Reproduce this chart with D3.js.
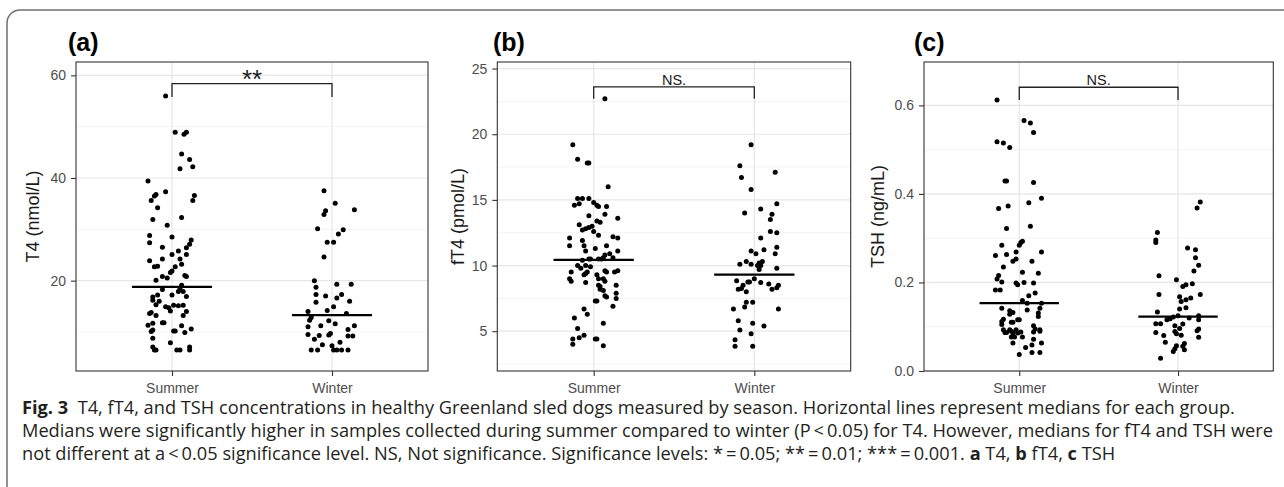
<!DOCTYPE html>
<html>
<head>
<meta charset="utf-8">
<script src="https://cdn.jsdelivr.net/npm/d3@7"></script>
<style>
  body { margin: 0; background: #fff; }
  svg { display: block; }
</style>
</head>
<body>
<script>
const W = 1284
const H = 487

const groups = ['Summer', 'Winter']
const panelLetters = ['(a)', '(b)', '(c)']
const yTitles = ['T4 (nmol/L)', 'fT4 (pmol/L)', 'TSH (ng/mL)']
const sigLabels = ['**', 'NS.', 'NS.']
const yDomains = [[2.4, 62.6], [1.97, 25.5], [0, 0.698]]
const yTicks = [[20, 40, 60], [5, 10, 15, 20, 25], [0, 0.2, 0.4, 0.6]]
const yMinor = [[10, 30, 50], [2.5, 7.5, 12.5, 17.5, 22.5], [0.1, 0.3, 0.5]]
const tickFormats = ['d', 'd', '.1f']
const medians = [[18.8, 13.3], [10.43, 9.31], [0.1535, 0.123]]
// bracket: [bar value, tip value]
const brackets = [[58.4, 55.8], [23.6, 22.7], [0.641, 0.612]]

// points: [jitter in category units, value]
const t4Summer = [
  [-0.04, 56.0], [0.02, 48.9], [0.075, 48.5], [0.09, 48.9], [0.06, 44.7], [0.11, 43.6], [0.05, 41.8], [0.13, 42.2],
  [-0.15, 39.4], [0.14, 36.6], [0.13, 35.6], [-0.10, 36.8], [-0.11, 36.5], [-0.04, 37.3], [-0.13, 35.6], [-0.09, 34.2],
  [0.06, 32.3], [-0.12, 31.9], [-0.03, 30.8], [-0.14, 28.8], [0.00, 28.5], [-0.14, 27.4], [0.12, 27.9], [0.11, 27.1],
  [-0.06, 26.5], [0.09, 26.4], [0.04, 25.8], [0.00, 25.1], [0.09, 25.1], [-0.14, 23.9], [-0.06, 24.2], [0.05, 24.2],
  [0.06, 23.2], [-0.11, 22.7], [-0.09, 22.8], [0.02, 22.7], [0.00, 21.9], [-0.01, 21.6], [-0.10, 20.1], [-0.06, 20.8],
  [-0.03, 20.5], [0.08, 21.0], [0.09, 20.8], [0.06, 19.1], [0.05, 18.4], [-0.06, 18.3], [-0.12, 16.8], [-0.09, 17.2],
  [0.00, 17.2], [0.04, 17.9], [0.07, 17.9], [0.09, 16.9], [-0.12, 16.2], [-0.08, 16.0], [-0.10, 15.3], [-0.04, 14.9],
  [-0.02, 14.7], [0.01, 15.2], [0.04, 15.1], [0.07, 15.2], [0.09, 14.0], [-0.13, 13.8], [-0.14, 13.6], [-0.10, 13.2],
  [-0.01, 14.1], [0.07, 13.2], [-0.12, 11.7], [-0.06, 11.8], [-0.05, 11.8], [-0.15, 11.3], [-0.12, 10.4], [-0.13, 10.1],
  [0.01, 10.2], [0.02, 10.2], [0.06, 11.2], [0.12, 10.6], [0.08, 9.9], [-0.12, 8.8], [-0.01, 7.9], [-0.12, 7.1],
  [-0.11, 6.5], [-0.10, 6.5], [0.03, 6.5], [0.05, 6.5], [0.11, 7.1], [0.11, 6.5]
]
const t4Winter = [
  [-0.05, 37.5], [0.02, 35.1], [0.14, 33.8], [-0.04, 33.6], [-0.05, 32.9], [-0.09, 30.1], [0.07, 29.9], [0.04, 29.1],
  [-0.03, 27.5], [0.01, 27.5], [-0.05, 24.6], [-0.11, 20.0], [-0.10, 18.7], [0.03, 19.3], [0.12, 19.3], [-0.10, 17.3],
  [-0.04, 17.0], [0.03, 16.6], [0.06, 17.3], [-0.10, 15.8], [0.11, 16.0], [0.01, 14.9], [-0.03, 14.2], [-0.15, 14.0],
  [0.09, 13.6], [-0.13, 12.8], [-0.14, 12.3], [-0.02, 12.2], [0.02, 11.6], [-0.15, 11.0], [-0.07, 11.2], [0.14, 11.2],
  [0.10, 10.5], [-0.15, 9.5], [-0.08, 9.3], [-0.01, 9.7], [-0.02, 9.4], [0.10, 9.2], [0.13, 9.2], [-0.11, 8.6],
  [-0.06, 7.5], [0.05, 8.0], [0.00, 7.3], [-0.13, 6.5], [-0.09, 6.5], [0.01, 6.5], [0.03, 6.5], [0.06, 6.5], [0.10, 6.5]
]
const ft4Summer = [
  [0.07, 22.7], [-0.13, 19.2], [-0.10, 18.1], [-0.04, 17.8], [-0.03, 17.8], [0.09, 16.0], [-0.10, 15.1], [-0.07, 15.1],
  [-0.03, 15.1], [-0.12, 14.6], [-0.09, 14.7], [0.00, 14.8], [0.02, 14.6], [0.03, 14.5], [0.08, 14.5], [-0.03, 13.8],
  [0.07, 13.9], [0.15, 13.6], [0.02, 13.4], [0.04, 13.3], [-0.09, 13.1], [-0.07, 12.7], [-0.05, 12.8], [-0.03, 12.9],
  [-0.01, 13.0], [0.00, 12.6], [-0.15, 12.1], [0.03, 12.3], [0.12, 12.2], [0.15, 12.1], [-0.07, 11.9], [-0.15, 11.5],
  [-0.06, 11.5], [0.08, 11.5], [0.01, 11.3], [-0.05, 11.1], [0.15, 11.1], [0.10, 10.9], [0.12, 10.6], [0.07, 10.8],
  [0.06, 10.6], [0.05, 10.5], [0.03, 10.5], [-0.02, 10.5], [-0.07, 10.4], [-0.03, 10.5], [-0.10, 10.0], [-0.08, 9.8],
  [-0.05, 10.0], [-0.02, 9.9], [-0.14, 9.5], [-0.15, 9.0], [-0.14, 8.8], [-0.05, 9.4], [-0.04, 9.5], [-0.06, 9.3],
  [0.02, 9.3], [0.07, 9.6], [0.08, 9.5], [0.13, 9.5], [0.15, 9.6], [0.06, 9.0], [0.07, 8.8], [0.03, 9.0],
  [-0.05, 8.7], [0.03, 8.5], [0.04, 8.4], [0.04, 8.2], [0.14, 8.5], [0.06, 8.1], [0.07, 7.7], [0.08, 7.6],
  [0.14, 7.9], [0.14, 7.5], [0.01, 7.3], [0.02, 7.3], [0.12, 6.9], [-0.06, 6.7], [-0.04, 6.3], [-0.12, 6.0],
  [0.06, 5.6], [-0.10, 5.2], [-0.06, 4.7], [-0.09, 4.5], [-0.13, 4.4], [-0.13, 4.0], [0.01, 4.4], [0.02, 4.4], [0.06, 3.9]
]
const ft4Winter = [
  [-0.02, 19.2], [-0.09, 17.6], [0.13, 17.1], [-0.08, 16.7], [-0.02, 15.8], [0.14, 14.7], [0.04, 14.3], [-0.06, 14.0],
  [0.11, 13.9], [0.10, 13.5], [0.10, 12.6], [0.14, 12.5], [0.04, 12.1], [0.14, 11.4], [0.13, 10.9], [-0.02, 11.1],
  [0.01, 10.9], [0.06, 11.2], [-0.05, 10.3], [-0.09, 10.1], [-0.02, 10.1], [0.03, 10.2], [0.05, 10.3], [0.04, 10.0],
  [0.03, 9.7], [0.02, 10.0], [0.14, 9.8], [-0.11, 8.85], [-0.07, 8.5], [-0.10, 8.2], [-0.08, 8.25], [-0.04, 8.75],
  [-0.03, 8.75], [0.00, 9.0], [0.04, 8.7], [-0.05, 8.0], [0.09, 8.6], [0.11, 8.2], [0.14, 8.3], [0.15, 8.5],
  [-0.05, 7.2], [-0.06, 6.85], [-0.01, 7.2], [-0.13, 6.7], [0.15, 6.7], [-0.10, 5.8], [-0.01, 5.6], [0.06, 5.4],
  [-0.09, 5.1], [-0.02, 4.8], [-0.12, 4.35], [-0.12, 3.85], [-0.01, 3.85]
]
const tshSummer = [
  [-0.14, 0.612], [0.03, 0.566], [0.07, 0.560], [0.09, 0.539], [-0.14, 0.518], [-0.10, 0.515], [-0.06, 0.505],
  [-0.09, 0.429], [-0.08, 0.429], [0.09, 0.426], [0.14, 0.390], [-0.07, 0.373], [-0.13, 0.367], [0.06, 0.380],
  [-0.08, 0.322], [0.07, 0.327], [0.01, 0.290], [0.02, 0.293], [0.00, 0.284], [-0.11, 0.284], [-0.15, 0.261],
  [-0.08, 0.263], [-0.02, 0.269], [0.14, 0.269], [-0.04, 0.248], [-0.02, 0.253], [0.08, 0.248], [-0.10, 0.235],
  [0.02, 0.223], [0.12, 0.221], [-0.13, 0.216], [-0.14, 0.208], [-0.11, 0.201], [-0.15, 0.183], [-0.12, 0.183],
  [-0.02, 0.199], [-0.01, 0.195], [0.03, 0.200], [0.09, 0.199], [0.10, 0.176], [0.06, 0.170], [0.02, 0.159],
  [0.05, 0.153], [0.05, 0.138], [0.14, 0.153], [0.13, 0.142], [-0.11, 0.142], [-0.06, 0.136], [-0.04, 0.132],
  [-0.06, 0.128], [0.12, 0.131], [0.12, 0.123], [-0.10, 0.117], [-0.11, 0.112], [-0.11, 0.105], [-0.01, 0.116],
  [0.00, 0.116], [-0.05, 0.110], [-0.04, 0.110], [-0.10, 0.093], [-0.08, 0.087], [-0.09, 0.087], [-0.06, 0.093],
  [-0.05, 0.090], [-0.04, 0.086], [-0.02, 0.093], [-0.01, 0.086], [0.01, 0.088], [0.09, 0.102], [0.10, 0.095],
  [0.09, 0.088], [0.13, 0.093], [0.13, 0.090], [-0.05, 0.077], [-0.03, 0.077], [-0.04, 0.063], [0.02, 0.077],
  [0.09, 0.072], [0.08, 0.059], [0.14, 0.063], [0.04, 0.053], [0.00, 0.037], [0.08, 0.042], [0.13, 0.042]
]
const tshWinter = [
  [0.14, 0.382], [0.12, 0.368], [-0.13, 0.313], [-0.14, 0.296], [-0.14, 0.290], [0.06, 0.278], [0.11, 0.274],
  [0.11, 0.256], [0.13, 0.239], [0.10, 0.226], [-0.12, 0.215], [-0.01, 0.206], [0.03, 0.191], [0.05, 0.195],
  [0.09, 0.197], [0.14, 0.173], [-0.12, 0.173], [0.01, 0.168], [0.08, 0.165], [0.05, 0.161], [0.02, 0.157],
  [0.05, 0.143], [0.01, 0.140], [-0.13, 0.133], [-0.03, 0.122], [-0.05, 0.118], [-0.07, 0.116], [0.00, 0.125],
  [0.07, 0.120], [0.13, 0.125], [0.13, 0.116], [-0.14, 0.107], [-0.11, 0.107], [-0.02, 0.102], [0.03, 0.106],
  [0.01, 0.096], [0.13, 0.095], [0.12, 0.091], [-0.14, 0.087], [-0.02, 0.089], [-0.01, 0.084], [0.02, 0.081],
  [-0.09, 0.080], [0.13, 0.076], [-0.08, 0.065], [0.04, 0.062], [0.03, 0.056], [-0.01, 0.057], [-0.02, 0.050],
  [-0.03, 0.044], [0.04, 0.048], [-0.11, 0.029]
]
const seriesData = [[t4Summer, t4Winter], [ft4Summer, ft4Winter], [tshSummer, tshWinter]]

// panel layout in px
const panelX = [[76, 428], [497.3, 850.7], [924, 1273.3]]
const panelTop = 62
const panelBottom = 371
const letterX = [68, 493, 914]
const titleX = [33, 458, 878]

const svg = d3.select('body').append('svg')
  .attr('width', W)
  .attr('height', H)

svg.append('rect').attr('width', W).attr('height', H).attr('fill', 'white')

// outer rounded frame
svg.append('path')
  .attr('d', 'M7,' + (H + 5) + ' L7,23 A13,13 0 0 1 20,10 L' + (W + 5) + ',10')
  .attr('fill', 'none')
  .attr('stroke', '#707070')
  .attr('stroke-width', 1.5)

function drawPanel(i) {
  const [x0, x1] = panelX[i]
  const w = x1 - x0
  const h = panelBottom - panelTop
  const g = svg.append('g').attr('transform', 'translate(' + x0 + ',' + panelTop + ')')

  const xScale = d3.scalePoint().domain(groups).range([0, w]).padding(0.6)
  const step = xScale.step()
  const yScale = d3.scaleLinear().domain(yDomains[i]).range([h, 0])

  // grid
  g.selectAll('.minor').data(yMinor[i]).enter().append('line')
    .attr('x1', 0).attr('x2', w)
    .attr('y1', d => yScale(d)).attr('y2', d => yScale(d))
    .attr('stroke', '#f0f0f0').attr('stroke-width', 0.8)
  g.selectAll('.major').data(yTicks[i]).enter().append('line')
    .attr('x1', 0).attr('x2', w)
    .attr('y1', d => yScale(d)).attr('y2', d => yScale(d))
    .attr('stroke', '#e6e6e6').attr('stroke-width', 1.2)
  g.selectAll('.vgrid').data(groups).enter().append('line')
    .attr('x1', d => xScale(d)).attr('x2', d => xScale(d))
    .attr('y1', 0).attr('y2', h)
    .attr('stroke', '#e6e6e6').attr('stroke-width', 1.2)

  // points
  groups.forEach((grp, gi) => {
    g.append('g').selectAll('circle').data(seriesData[i][gi]).enter().append('circle')
      .attr('cx', d => xScale(grp) + d[0] * step)
      .attr('cy', d => yScale(d[1]))
      .attr('r', 2.5)
      .attr('fill', '#000')
  })

  // medians
  g.selectAll('.med').data(groups).enter().append('line')
    .attr('x1', d => xScale(d) - 0.25 * step)
    .attr('x2', d => xScale(d) + 0.25 * step)
    .attr('y1', (d, k) => yScale(medians[i][k]))
    .attr('y2', (d, k) => yScale(medians[i][k]))
    .attr('stroke', '#000').attr('stroke-width', 2.3)

  // significance bracket
  const [bTop, bTip] = brackets[i]
  const line = d3.line()
  g.append('path')
    .attr('d', line([
      [xScale(groups[0]), yScale(bTip)], [xScale(groups[0]), yScale(bTop)],
      [xScale(groups[1]), yScale(bTop)], [xScale(groups[1]), yScale(bTip)]
    ]))
    .attr('fill', 'none').attr('stroke', '#222').attr('stroke-width', 1.3)
  const isStar = sigLabels[i].indexOf('*') >= 0
  g.append('text')
    .attr('x', (xScale(groups[0]) + xScale(groups[1])) / 2)
    .attr('y', yScale(bTop) + (isStar ? 4 : -2))
    .attr('text-anchor', 'middle')
    .attr('font-family', 'Liberation Sans, Arial, sans-serif')
    .attr('font-size', isStar ? 26 : 14.5)
    .attr('fill', '#1a1a1a')
    .text(sigLabels[i])

  // panel border
  g.append('rect')
    .attr('width', w).attr('height', h)
    .attr('fill', 'none').attr('stroke', '#333').attr('stroke-width', 1.1)

  // axes
  const yAxis = g.append('g')
    .call(d3.axisLeft(yScale).tickValues(yTicks[i]).tickFormat(d3.format(tickFormats[i])).tickSize(5).tickPadding(5))
  const xAxis = g.append('g')
    .attr('transform', 'translate(0,' + h + ')')
    .call(d3.axisBottom(xScale).tickSize(5).tickPadding(7))
  ;[yAxis, xAxis].forEach(ax => {
    ax.select('.domain').remove()
    ax.selectAll('line').attr('stroke', '#333').attr('stroke-width', 1.1)
    ax.selectAll('text')
      .attr('fill', '#4d4d4d')
      .attr('font-family', 'Liberation Sans, Arial, sans-serif')
      .attr('font-size', 14)
  })

  // y title
  svg.append('text')
    .attr('transform', 'translate(' + titleX[i] + ',' + (panelTop + h / 2) + ') rotate(-90)')
    .attr('text-anchor', 'middle')
    .attr('dy', '0.35em')
    .attr('font-family', 'Liberation Sans, Arial, sans-serif')
    .attr('font-size', 18)
    .attr('fill', '#1a1a1a')
    .text(yTitles[i])

  // panel letter
  svg.append('text')
    .attr('x', letterX[i])
    .attr('y', 51)
    .attr('font-family', 'Liberation Sans, Arial, sans-serif')
    .attr('font-weight', 'bold')
    .attr('font-size', 25)
    .attr('fill', '#000')
    .text(panelLetters[i])
}

d3.range(3).forEach(drawPanel)

// caption
const captionLines = [
  [['Fig. 3', true], ['  T4, fT4, and TSH concentrations in healthy Greenland sled dogs measured by season. Horizontal lines represent medians for each group.', false]],
  [['Medians were significantly higher in samples collected during summer compared to winter (P\u2009<\u20090.05) for T4. However, medians for fT4 and TSH were', false]],
  [['not different at a\u2009<\u20090.05 significance level. NS, Not significance. Significance levels: *\u2009=\u20090.05; **\u2009=\u20090.01; ***\u2009=\u20090.001. ', false],
   ['a', true], [' T4, ', false], ['b', true], [' fT4, ', false], ['c', true], [' TSH', false]]
]
const captionY = [414, 437, 460]
const caption = svg.append('g')
  .attr('font-family', 'Open Sans, Noto Sans, sans-serif')
  .attr('fill', '#231f20')
  .attr('font-size', 16)
const captionTexts = captionLines.map((parts, li) => {
  const t = caption.append('text')
    .attr('x', 22)
    .attr('y', captionY[li])
    .attr('xml:space', 'preserve')
  parts.forEach(p => {
    t.append('tspan')
      .attr('font-weight', p[1] ? 'bold' : null)
      .text(p[0])
  })
  return t
})
// fit first line to the width of the reference
const len0 = captionTexts[0].node().getComputedTextLength()
caption.attr('font-size', 16 * (1236 - 22) / len0)
</script>
</body>
</html>
